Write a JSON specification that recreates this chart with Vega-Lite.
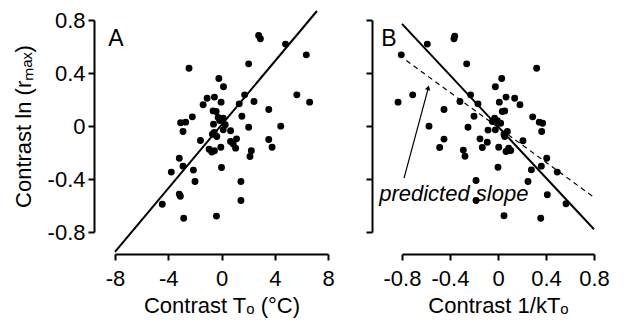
{
  "$schema": "https://vega.github.io/schema/vega-lite/v6.json",
  "padding": {"left": 12, "top": 6, "right": 5, "bottom": 5},
  "spacing": 30,
  "config": {
    "view": {"stroke": null},
    "axis": {
      "grid": false,
      "domain": true,
      "ticks": true,
      "domainColor": "black",
      "domainWidth": 2,
      "tickColor": "black",
      "tickWidth": 2,
      "tickSize": 6,
      "labelFlush": false,
      "labelOverlap": false,
      "labelFont": "Liberation Sans",
      "labelFontSize": 22,
      "labelColor": "black",
      "titleFont": "Liberation Sans",
      "titleFontSize": 22,
      "titleFontWeight": "normal",
      "titleColor": "black"
    }
  },
  "datasets": {
    "ptsA": [
      {"x": 2.79, "y": 0.683}, {"x": 2.92, "y": 0.658}, {"x": 4.81, "y": 0.618}, {"x": 6.37, "y": 0.537},
      {"x": -2.44, "y": 0.436}, {"x": 2.04, "y": 0.469}, {"x": -0.2, "y": 0.358}, {"x": 0.15, "y": 0.296},
      {"x": 5.66, "y": 0.235}, {"x": 6.62, "y": 0.18}, {"x": 1.74, "y": 0.235}, {"x": 2.44, "y": 0.185},
      {"x": 1.33, "y": 0.167}, {"x": -1.08, "y": 0.21}, {"x": -0.53, "y": 0.218}, {"x": -1.38, "y": 0.16},
      {"x": -0.03, "y": 0.18}, {"x": 3.55, "y": 0.125}, {"x": -0.63, "y": 0.114}, {"x": -0.4, "y": 0.109},
      {"x": 1.53, "y": 0.074}, {"x": -2.19, "y": 0.069}, {"x": -3.07, "y": 0.024}, {"x": -2.69, "y": 0.029},
      {"x": -2.89, "y": -0.042}, {"x": -0.25, "y": 0.064}, {"x": 0.13, "y": 0.059}, {"x": -0.13, "y": 0.042},
      {"x": -0.6, "y": 0.014}, {"x": 0.28, "y": 0.009}, {"x": 2.04, "y": -0.009}, {"x": 4.45, "y": -0.001},
      {"x": 0.13, "y": -0.029}, {"x": 0.68, "y": -0.036}, {"x": -0.55, "y": -0.049}, {"x": -0.35, "y": -0.079},
      {"x": -0.68, "y": -0.062}, {"x": -1.58, "y": -0.109}, {"x": 0.68, "y": -0.117}, {"x": 0.88, "y": -0.135},
      {"x": 1.13, "y": -0.097}, {"x": 1.06, "y": -0.167}, {"x": 3.55, "y": -0.102}, {"x": 3.8, "y": -0.16},
      {"x": -0.05, "y": -0.16}, {"x": -0.93, "y": -0.175}, {"x": -0.73, "y": -0.197}, {"x": -0.53, "y": -0.187},
      {"x": 2.24, "y": -0.187}, {"x": 2.14, "y": -0.23}, {"x": -3.17, "y": -0.243}, {"x": -2.89, "y": -0.303},
      {"x": -2.11, "y": -0.333}, {"x": -3.77, "y": -0.348}, {"x": 0.0, "y": -0.313}, {"x": -1.99, "y": -0.419},
      {"x": 1.46, "y": -0.419}, {"x": -3.17, "y": -0.514}, {"x": -3.09, "y": -0.53}, {"x": 1.46, "y": -0.562},
      {"x": -4.45, "y": -0.59}, {"x": -2.84, "y": -0.696}, {"x": -0.38, "y": -0.68}
    ],
    "ptsB": [
      {"x": -0.361, "y": 0.678}, {"x": -0.367, "y": 0.658}, {"x": -0.589, "y": 0.618}, {"x": -0.806, "y": 0.537},
      {"x": -0.261, "y": 0.469}, {"x": 0.322, "y": 0.436}, {"x": 0.031, "y": 0.358}, {"x": -0.022, "y": 0.296},
      {"x": -0.711, "y": 0.235}, {"x": -0.833, "y": 0.18}, {"x": -0.228, "y": 0.235}, {"x": -0.317, "y": 0.185},
      {"x": -0.167, "y": 0.167}, {"x": 0.067, "y": 0.218}, {"x": 0.139, "y": 0.21}, {"x": 0.011, "y": 0.18},
      {"x": 0.183, "y": 0.16}, {"x": -0.45, "y": 0.125}, {"x": 0.056, "y": 0.114}, {"x": 0.036, "y": 0.109},
      {"x": -0.2, "y": 0.074}, {"x": 0.289, "y": 0.069}, {"x": 0.344, "y": 0.029}, {"x": 0.372, "y": 0.021},
      {"x": -0.028, "y": 0.059}, {"x": -0.006, "y": 0.039}, {"x": 0.022, "y": 0.021}, {"x": -0.047, "y": 0.034},
      {"x": -0.575, "y": -0.001}, {"x": -0.25, "y": -0.009}, {"x": -0.022, "y": -0.029}, {"x": -0.083, "y": -0.031},
      {"x": 0.364, "y": -0.042}, {"x": 0.078, "y": -0.042}, {"x": 0.056, "y": -0.079}, {"x": 0.05, "y": -0.062},
      {"x": -0.15, "y": -0.097}, {"x": -0.45, "y": -0.099}, {"x": 0.208, "y": -0.112}, {"x": -0.089, "y": -0.122},
      {"x": -0.131, "y": -0.162}, {"x": -0.486, "y": -0.162}, {"x": 0.006, "y": -0.16}, {"x": -0.289, "y": -0.182},
      {"x": -0.275, "y": -0.228}, {"x": 0.067, "y": -0.192}, {"x": 0.106, "y": -0.185}, {"x": 0.089, "y": -0.167},
      {"x": 0.406, "y": -0.243}, {"x": 0.361, "y": -0.303}, {"x": 0.0, "y": -0.311}, {"x": 0.278, "y": -0.331},
      {"x": 0.494, "y": -0.348}, {"x": 0.25, "y": -0.419}, {"x": -0.183, "y": -0.411}, {"x": 0.411, "y": -0.519},
      {"x": -0.183, "y": -0.562}, {"x": 0.567, "y": -0.587}, {"x": 0.05, "y": -0.678}, {"x": 0.356, "y": -0.696}
    ],
    "fitA": [{"x": -8, "y": -0.95}, {"x": 7.17, "y": 0.868}],
    "fitB": [{"x": -0.8, "y": 0.771}, {"x": 0.8, "y": -0.779}],
    "predB": [{"x": -0.764, "y": 0.494}, {"x": 0.811, "y": -0.545}],
    "arrowB": [{"x": -0.783, "y": -0.394, "x2": -0.58, "y2": 0.29}],
    "headB": [{"x": -0.5815, "y": 0.289}],
    "labelA": [{"x": -8.5, "y": 0.66, "label": "A"}],
    "labelB": [{"x": -0.973, "y": 0.66, "label": "B"}],
    "noteB": [{"x": -0.99, "y": -0.565, "label": "predicted slope"}]
  },
  "hconcat": [
    {
      "width": 213,
      "height": 212,
      "layer": [
        {
          "data": {"name": "ptsA"},
          "mark": {"type": "point", "filled": true, "color": "black", "opacity": 1, "size": 48},
          "encoding": {
            "x": {"field": "x", "type": "quantitative",
                  "scale": {"domain": [-8, 8], "nice": false, "zero": false},
                  "axis": {"values": [-8, -4, 0, 4, 8], "offset": 22, "labelPadding": 8, "titlePadding": 6,
                           "labelExpr": "toString(datum.value)", "title": "Contrast Tₒ (°C)"}},
            "y": {"field": "y", "type": "quantitative",
                  "scale": {"domain": [-0.8, 0.8], "nice": false, "zero": false},
                  "axis": {"values": [-0.8, -0.4, 0, 0.4, 0.8], "offset": 21, "labelPadding": 3, "titlePadding": 12,
                           "labelExpr": "toString(datum.value)", "title": "Contrast ln (rₘₐₓ)"}}
          }
        },
        {
          "data": {"name": "fitA"},
          "mark": {"type": "line", "color": "black", "strokeWidth": 2},
          "encoding": {"x": {"field": "x", "type": "quantitative"}, "y": {"field": "y", "type": "quantitative"}}
        },
        {
          "data": {"name": "labelA"},
          "mark": {"type": "text", "font": "Liberation Sans", "fontSize": 23, "align": "left", "baseline": "middle", "color": "black"},
          "encoding": {"x": {"field": "x", "type": "quantitative"}, "y": {"field": "y", "type": "quantitative"}, "text": {"field": "label"}}
        }
      ]
    },
    {
      "width": 192,
      "height": 212,
      "layer": [
        {
          "data": {"name": "ptsB"},
          "mark": {"type": "point", "filled": true, "color": "black", "opacity": 1, "size": 48},
          "encoding": {
            "x": {"field": "x", "type": "quantitative",
                  "scale": {"domain": [-0.8, 0.8], "nice": false, "zero": false},
                  "axis": {"values": [-0.8, -0.4, 0, 0.4, 0.8], "offset": 22, "labelPadding": 8, "titlePadding": 6,
                           "labelExpr": "toString(datum.value)", "title": "Contrast 1/kTₒ"}},
            "y": {"field": "y", "type": "quantitative",
                  "scale": {"domain": [-0.8, 0.8], "nice": false, "zero": false},
                  "axis": {"values": [-0.8, -0.4, 0, 0.4, 0.8], "offset": 30, "labels": false, "title": null}}
          }
        },
        {
          "data": {"name": "fitB"},
          "mark": {"type": "line", "color": "black", "strokeWidth": 2},
          "encoding": {"x": {"field": "x", "type": "quantitative"}, "y": {"field": "y", "type": "quantitative"}}
        },
        {
          "data": {"name": "predB"},
          "mark": {"type": "line", "color": "black", "strokeWidth": 1.2, "strokeDash": [5, 4]},
          "encoding": {"x": {"field": "x", "type": "quantitative"}, "y": {"field": "y", "type": "quantitative"}}
        },
        {
          "data": {"name": "arrowB"},
          "mark": {"type": "rule", "color": "black", "strokeWidth": 1.2},
          "encoding": {"x": {"field": "x", "type": "quantitative"}, "y": {"field": "y", "type": "quantitative"},
                       "x2": {"field": "x2"}, "y2": {"field": "y2"}}
        },
        {
          "data": {"name": "headB"},
          "mark": {"type": "point", "shape": "triangle-up", "angle": 15, "filled": true, "color": "black", "opacity": 1, "size": 30},
          "encoding": {"x": {"field": "x", "type": "quantitative"}, "y": {"field": "y", "type": "quantitative"}}
        },
        {
          "data": {"name": "labelB"},
          "mark": {"type": "text", "font": "Liberation Sans", "fontSize": 23, "align": "left", "baseline": "middle", "color": "black"},
          "encoding": {"x": {"field": "x", "type": "quantitative"}, "y": {"field": "y", "type": "quantitative"}, "text": {"field": "label"}}
        },
        {
          "data": {"name": "noteB"},
          "mark": {"type": "text", "font": "Liberation Sans", "fontSize": 22, "fontStyle": "italic", "align": "left", "baseline": "alphabetic", "color": "black"},
          "encoding": {"x": {"field": "x", "type": "quantitative"}, "y": {"field": "y", "type": "quantitative"}, "text": {"field": "label"}}
        }
      ]
    }
  ]
}
